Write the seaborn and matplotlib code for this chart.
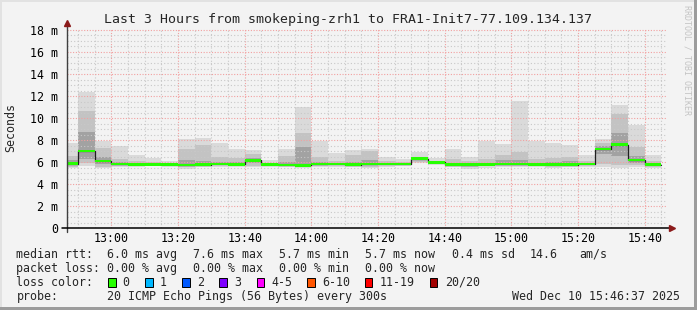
import numpy as np
import pandas as pd
import matplotlib
matplotlib.use("Agg")
import matplotlib.pyplot as plt
import matplotlib.dates as mdates
from matplotlib.ticker import MultipleLocator, FuncFormatter
from matplotlib.patches import Rectangle
import seaborn as sns

# ---------------- data (milliseconds, 5-minute bins starting 12:45) ----------------
bin_start = "2025-12-10 12:45"
view_start = "2025-12-10 12:46:37"
view_end = "2025-12-10 15:46:37"

median = [5.87, 7.02, 6.11, 5.84, 5.81, 5.81, 5.78, 5.75, 5.78, 5.84, 5.81, 6.17,
          5.81, 5.75, 5.72, 5.84, 5.84, 5.78, 5.84, 5.84, 5.84, 6.32, 5.99, 5.78,
          5.78, 5.81, 5.84, 5.84, 5.81, 5.78, 5.78, 5.84, 7.20, 7.59, 6.20, 5.78]
ping_lo = [5.50, 5.68, 5.50, 5.60, 5.60, 5.62, 5.62, 5.38, 5.55, 5.60, 5.60, 5.55,
           5.60, 5.55, 5.50, 5.55, 5.60, 5.55, 5.44, 5.60, 5.62, 5.95, 5.70, 5.55,
           5.38, 5.50, 5.55, 5.55, 5.55, 5.50, 5.55, 5.60, 5.60, 5.50, 5.55, 5.50]
ping_p10 = [5.60, 5.90, 5.60, 5.68, 5.68, 5.70, 5.70, 5.55, 5.65, 5.70, 5.70, 5.65,
            5.70, 5.65, 5.60, 5.65, 5.70, 5.65, 5.60, 5.70, 5.70, 6.05, 5.80, 5.65,
            5.60, 5.65, 5.65, 5.65, 5.65, 5.62, 5.65, 5.70, 5.85, 5.75, 5.70, 5.62]
ping_p25 = [5.75, 6.30, 5.85, 5.76, 5.74, 5.75, 5.72, 5.68, 5.72, 5.77, 5.75, 5.90,
            5.75, 5.70, 5.65, 5.75, 5.76, 5.72, 5.75, 5.78, 5.78, 6.20, 5.90, 5.72,
            5.70, 5.74, 5.76, 5.76, 5.74, 5.72, 5.72, 5.77, 6.70, 6.60, 5.90, 5.72]
ping_p75 = [6.20, 8.77, 6.50, 6.00, 5.95, 5.90, 5.88, 6.20, 6.10, 6.05, 6.00, 6.40,
            5.90, 6.00, 7.41, 6.00, 5.95, 6.00, 6.20, 5.95, 5.92, 6.42, 6.05, 5.90,
            5.90, 5.95, 6.20, 6.20, 5.95, 6.00, 6.10, 5.95, 7.45, 8.62, 6.60, 5.90]
ping_p90 = [6.56, 10.60, 7.26, 6.30, 6.10, 6.00, 5.95, 7.17, 7.53, 6.44, 6.42, 6.70,
            5.95, 6.60, 8.62, 6.50, 6.10, 6.65, 7.00, 6.10, 6.00, 6.50, 6.15, 6.30,
            6.10, 6.30, 6.65, 6.96, 6.30, 6.41, 6.50, 6.10, 7.77, 10.40, 7.41, 6.10]
ping_hi = [7.70, 12.40, 7.96, 7.50, 6.65, 6.35, 6.14, 8.10, 8.23, 7.77, 7.20, 7.10,
           6.20, 7.20, 11.04, 7.96, 6.87, 7.10, 7.20, 6.50, 6.26, 6.96, 6.41, 7.20,
           6.50, 7.96, 7.65, 11.55, 7.96, 7.71, 7.56, 6.65, 8.10, 11.20, 9.38, 6.65]

title = "Last 3 Hours from smokeping-zrh1 to FRA1-Init7-77.109.134.137"
rtt_label = "median rtt:"
rtt_stats = ["6.0 ms avg", "7.6 ms max", "5.7 ms min", "5.7 ms now", "0.4 ms sd", "14.6", "am/s"]
loss_label = "packet loss:"
loss_stats = ["0.00 % avg", "0.00 % max", "0.00 % min", "0.00 % now"]
color_label = "loss color:"
loss_names = ["0", "1", "2", "3", "4-5", "6-10", "11-19", "20/20"]
loss_colors = ["#26ff00", "#00b8ff", "#0059ff", "#7e00ff", "#ff00ff", "#ff5500", "#ff0000", "#a10000"]
probe_label = "probe:"
probe_text = "20 ICMP Echo Pings (56 Bytes) every 300s"
stamp_text = "Wed Dec 10 15:46:37 2025"
watermark = "RRDTOOL / TOBI OETIKER"

# ---------------- frame ----------------
times = pd.date_range(bin_start, periods=len(median) + 1, freq="5min")
def ext(a):
    return list(a) + [a[-1]]
df = pd.DataFrame({"time": times, "median": ext(median), "lo": ext(ping_lo),
                   "p10": ext(ping_p10), "p25": ext(ping_p25), "p75": ext(ping_p75),
                   "p90": ext(ping_p90), "hi": ext(ping_hi)})

sns.set_style("white")
plt.rcParams['font.family'] = ['DejaVu Sans Mono', 'DejaVu Sans']
BG = "#f3f3f3"
FS = 8.35
W, H = 697, 310

fig = plt.figure(figsize=(W / 100, H / 100), dpi=100, facecolor=BG)
L, R, T, B = 66.7, 666.7, 28.3, 228.3
ax = fig.add_axes([L / W, 1 - B / H, (R - L) / W, (B - T) / H])
ax.set_facecolor(BG)

band_colors = [("lo", "hi", "#dadada"), ("p10", "p90", "#c3c3c3"), ("p25", "p75", "#a2a2a2")]
for a, b, c in band_colors:
    ax.fill_between(df["time"], df[a], df[b], step="post", color=c, lw=0, zorder=1)

sns.lineplot(data=df, x="time", y="median", drawstyle="steps-post", color="#202020",
             lw=0.9, ax=ax, zorder=3)
ax.fill_between(df["time"], df["median"] - 0.13, df["median"] + 0.13, step="post",
                color=loss_colors[0], lw=0, zorder=4)

ax.set_xlim(pd.Timestamp(view_start), pd.Timestamp(view_end))
ax.set_ylim(0, (B - T) / 11.02)
ax.set_xlabel("")
ax.set_ylabel("")

ax.xaxis.set_major_locator(mdates.MinuteLocator(byminute=[0, 20, 40]))
ax.xaxis.set_minor_locator(mdates.MinuteLocator(byminute=list(range(0, 60, 5))))
ax.xaxis.set_major_formatter(mdates.DateFormatter("%H:%M"))
ax.yaxis.set_major_locator(MultipleLocator(2))
ax.yaxis.set_minor_locator(MultipleLocator(0.5))
ax.yaxis.set_major_formatter(FuncFormatter(lambda v, p: "0" if abs(v) < 1e-9 else f"{v:.0f} m"))

ax.set_axisbelow(False)
ax.grid(which="minor", color="#c8c8c8", ls=(0, (1, 2)), lw=0.8)
ax.grid(which="major", color="#f2a0a0", ls=(0, (1, 1.5)), lw=0.8)
for g in ax.get_xgridlines() + ax.get_ygridlines():
    g.set_zorder(2.5)

for s in ax.spines.values():
    s.set_visible(False)
ax.tick_params(axis="both", which="both", labelsize=FS, colors="#404040", labelcolor="#000000")
ax.tick_params(axis="y", which="major", length=2.5, width=0.7, pad=3.5)
ax.tick_params(axis="y", which="minor", length=0)
ax.tick_params(axis="x", which="major", length=2, width=0.7, pad=0.8)
ax.tick_params(axis="x", which="minor", length=0)

# axis lines with arrows
ax.plot([0, 0], [-0.02, 1.025], transform=ax.transAxes, color="#404040", lw=1, clip_on=False, zorder=5)
ax.plot([-0.008, 1.008], [0, 0], transform=ax.transAxes, color="#000000", lw=1.1, clip_on=False, zorder=5)
ax.plot([0], [1.025], transform=ax.transAxes, marker="^", ms=5, color="#8b1a1a", clip_on=False, zorder=6)
ax.plot([1.008], [0], transform=ax.transAxes, marker=">", ms=5, color="#8b1a1a", clip_on=False, zorder=6)

def fx(px):
    return px / W
def fy(py):
    return 1 - py / H

fig.text(fx(11), fy(127), "Seconds", rotation=90, ha="center", va="center", fontsize=FS)
fig.text(fx(347.5), fy(19.3), title, ha="center", va="center", fontsize=9.5)
fig.text(fx(687), fy(5), watermark, rotation=270, ha="center", va="top", fontsize=6, color="#c4c4c4")

cols = [107, 193.3, 279, 365, 451.6, 530, 579]
y1, y2, y3, y4 = 254.3, 268.3, 282.4, 296.7
fig.text(fx(16.4), fy(y1), rtt_label, ha="left", va="center", fontsize=FS)
for x, s in zip(cols, rtt_stats):
    fig.text(fx(x), fy(y1), s, ha="left", va="center", fontsize=FS)
fig.text(fx(16.4), fy(y2), loss_label, ha="left", va="center", fontsize=FS)
for x, s in zip(cols, loss_stats):
    fig.text(fx(x), fy(y2), s, ha="left", va="center", fontsize=FS)
fig.text(fx(16.4), fy(y3), color_label, ha="left", va="center", fontsize=FS)
sw_x = [108.3, 145.3, 182.3, 219.3, 256.7, 307.3, 365.0, 430.0]
lb_x = [122.7, 160.0, 197.3, 234.0, 271.7, 322.0, 380.0, 445.0]
for sx, lx, name, col in zip(sw_x, lb_x, loss_names, loss_colors):
    fig.patches.append(Rectangle((fx(sx), fy(y3 + 4.3)), 7.4 / W, 8.6 / H, transform=fig.transFigure,
                                 facecolor=col, edgecolor="#000000", lw=0.7, figure=fig))
    fig.text(fx(lx), fy(y3), name, ha="left", va="center", fontsize=FS)
fig.text(fx(16.4), fy(y4), probe_label, ha="left", va="center", fontsize=FS)
fig.text(fx(107), fy(y4), probe_text, ha="left", va="center", fontsize=FS)
fig.text(fx(680), fy(y4), stamp_text, ha="right", va="center", fontsize=FS)

# 3D frame
fig.patches.append(Rectangle((0, 1 - 2 / H), 1, 2 / H, transform=fig.transFigure, color="#e2e2e2", lw=0, figure=fig))
fig.patches.append(Rectangle((0, 0), 2 / W, 1, transform=fig.transFigure, color="#e2e2e2", lw=0, figure=fig))
fig.patches.append(Rectangle((0, 0), 1, 3 / H, transform=fig.transFigure, color="#9c9c9c", lw=0, figure=fig))
fig.patches.append(Rectangle((1 - 3 / W, 0), 3 / W, 1, transform=fig.transFigure, color="#9c9c9c", lw=0, figure=fig))

fig.savefig("out.png", dpi=100, facecolor=BG)
